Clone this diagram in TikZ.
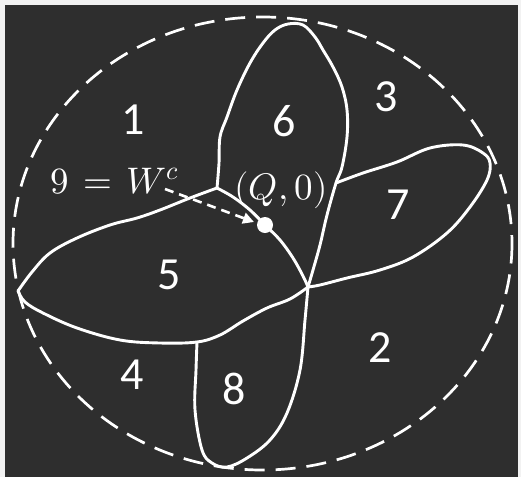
\documentclass[tikz,border=0pt]{standalone}
\usepackage{fontspec}
\usepackage{unicode-math}
\setmainfont{Carlito}
\setmathfont{Latin Modern Math}
\usetikzlibrary{arrows.meta}
\definecolor{board}{HTML}{2E2E2E}
\definecolor{frame}{HTML}{F2F2F2}
\tikzset{
  chalk/.style={draw=white, line width=2.9pt, line cap=round, line join=round},
  ring/.style={draw=white, line width=2.7pt, dash pattern=on 20pt off 11pt},
  ptr/.style={draw=white, line width=2.6pt, dash pattern=on 9pt off 6pt, -{Triangle[length=11pt,width=11pt]}},
  digit/.style={text=white, inner sep=0pt, font=\fontsize{46}{50}\selectfont},
  mathlbl/.style={text=white, inner sep=0pt, font=\fontsize{37}{40}\selectfont}
}
\begin{document}
\begin{tikzpicture}[x=1pt,y=-1pt]
\useasboundingbox (0,0) rectangle (521,477);
\fill[frame] (0,0) rectangle (521,477);
\fill[board] (5,5) rectangle (518,477);

% dashed outer ellipse
\draw[ring] (262.5,243.5) ellipse [x radius=249.5, y radius=226.5];

% junctions
\coordinate (J1) at (217,188);
\coordinate (J2) at (336,183);
\coordinate (J3) at (197,342);
\coordinate (C) at (308,287);
\coordinate (L) at (18,291);
\coordinate (D) at (265,225);

% leaf 5 (left)
\draw[chalk] plot[smooth, tension=0.6] coordinates {(J1) (190,198) (160,210) (137,218) (110,225) (77,238) (50,253) (32,272) (L)};
\draw[chalk] plot[smooth, tension=0.6] coordinates {(L) (25,302) (43,313) (77,328) (120,340) (160,343) (J3) (220,335) (243,321) (267,308) (290,299) (C)};
% leaf 6 (top)
\draw[chalk] plot[smooth, tension=0.6] coordinates {(J1) (219,163) (220,137) (227,117) (237,90) (250,63) (263,43) (275,30) (288,24) (303,25) (315,37) (323,50) (333,67) (342,87) (347,110) (347,137) (342,167) (J2) (327,215) (320,245) (313,270) (C)};
% leaf 7 (right)
\draw[chalk] plot[smooth, tension=0.6] coordinates {(J2) (363,173) (397,162) (430,148) (463,145) (483,153) (490,163) (487,180) (470,207) (447,233) (413,257) (380,270) (347,278) (320,285) (C)};
% leaf 8 (bottom)
\draw[chalk] plot[smooth, tension=0.6] coordinates {(J3) (196,370) (195,410) (202,450) (212,463) (227,467) (247,458) (270,440) (287,413) (300,370) (305,320) (C)};
% diagonal through the point
\draw[chalk] plot[smooth, tension=0.6] coordinates {(J1) (233,197) (250,210) (D) (280,240) (293,258) (303,276) (C)};
\fill[white] (D) circle (8pt);

% labels
\node[digit] (n1) at (133,120) {1};
\node[digit] (n6) at (284,121) {6};
\node[digit] (n3) at (386,97) {3};
\node[digit] (n7) at (398,205) {7};
\node[digit] (n5) at (169,275) {5};
\node[digit] (n2) at (380,348) {2};
\node[digit] (n4) at (132,375) {4};
\node[digit] (n8) at (234,389) {8};
\node[mathlbl, anchor=base west] (w) at (50,193) {$9 \mathrel{\mkern2mu=\mkern2mu} W^{c}$};
\node[mathlbl, anchor=base] (q) at (281,199) {$(Q,0)$};

% pointer
\coordinate (ps) at (165,189);
\coordinate (pe) at (254,222);
\draw[ptr] (ps) -- (pe);
\end{tikzpicture}
\end{document}
